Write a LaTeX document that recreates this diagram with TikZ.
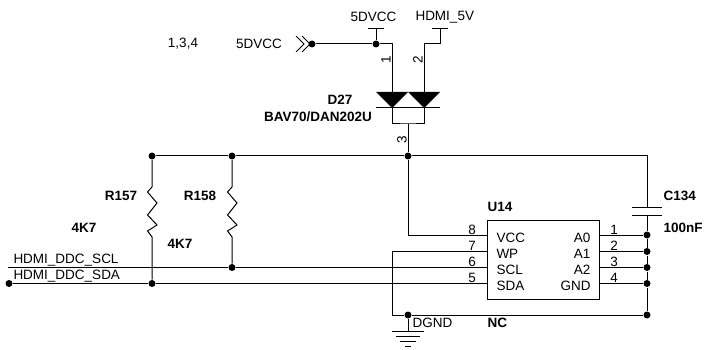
\documentclass[tikz,border=0pt]{standalone}
\usepackage{fontspec}
\setmainfont{Liberation Sans}
\begin{document}
\begin{tikzpicture}[x=1pt,y=-1pt,line width=1pt,
    txt/.style = {inner sep=0pt,font=\fontsize{13.5}{15}\selectfont},
    bold/.style = {txt,font=\fontsize{13.5}{15}\selectfont\bfseries},
    dot/.style = {circle,fill=black,inner sep=0pt,minimum size=7pt}]
  \useasboundingbox (0,0) rectangle (704,350);
  % junctions
  \node[dot] (conn) at (312,44) {};
  \node[dot] (vcc) at (376,44) {};
  \node[dot] (r1top) at (152,156) {};
  \node[dot] (r2top) at (232,156) {};
  \node[dot] (d3) at (408,156) {};
  \node[dot] (r1bot) at (152,283.5) {};
  \node[dot] (r2bot) at (232,267.5) {};
  \node[dot] (sda) at (9,283.5) {};
  \node[dot] (a0) at (647,235) {};
  \node[dot] (a1) at (647,251.5) {};
  \node[dot] (a2) at (647,267.5) {};
  \node[dot] (gnd) at (647,283.5) {};
  \node[dot] (nc) at (647,315) {};
  \node[dot] (dgnd) at (408,315) {};
  % chip
  \node[draw,minimum width=112pt,minimum height=79pt,inner sep=0pt] (u14) at (543,259.5) {};
  \foreach \name/\y in {p8/235,p7/251.5,p6/267.5,p5/283.5}
    \coordinate (\name) at (487,\y);
  \foreach \name/\y in {p1/235,p2/251.5,p3/267.5,p4/283.5}
    \coordinate (\name) at (599,\y);
  \foreach \n/\t/\y in {8/VCC/238,7/WP/253.5,6/SCL/269.5,5/SDA/285.5}{
    \node[txt] (n\n) at (472,\y-8) {\n};
    \node[txt,anchor=west] (l\n) at (496,\y) {\t};
  }
  \foreach \n/\t/\y in {1/A0/238,2/A1/253.5,3/A2/269.5,4/GND/285.5}{
    \node[txt] (n\n) at (614,\y-8) {\n};
    \node[txt,anchor=east] (l\n) at (591,\y) {\t};
  }
  \draw (p1) -- (a0);
  \draw (p2) -- (a1);
  \draw (p3) -- (a2);
  \draw (p4) -- (gnd);
  % top
  \coordinate (vccbar) at (376,29);
  \coordinate (hdmibar) at (440,29);
  \coordinate (hdmicor) at (440,44);
  \draw ([xshift=-8pt]vccbar) -- ([xshift=8pt]vccbar);
  \draw ([xshift=-8pt]hdmibar) -- ([xshift=8pt]hdmibar);
  \draw (vccbar) -- (vcc);
  \draw (hdmibar) -- (hdmicor);
  \draw (conn) -- (vcc);
  \draw (296,36) -- (304,44) -- (296,52);
  \draw (302,36) -- (310,44) -- (302,52);
  \node[txt] (t5v) at (373.5,17) {5DVCC};
  \node[txt,anchor=west] (thdmi) at (415,17) {HDMI\_5V};
  \node[txt] (tpages) at (183,44) {1,3,4};
  \node[txt] (tconn) at (259,44) {5DVCC};
  % diode
  \coordinate (dl) at (392,108);
  \coordinate (dr) at (424,108);
  \coordinate (dm) at (408,124);
  \fill (376,92) -- (408,92) -- (dl) -- cycle;
  \fill (408,92) -- (440,92) -- (dr) -- cycle;
  \draw (376,108) -- (440,108);
  \draw (vcc) -| (dl);
  \draw (hdmicor) -| (dr);
  \draw (dl) |- (dm) -| (dr);
  \draw (dm) -- (d3);
  \node[txt,rotate=90] (n1d) at (386,60) {1};
  \node[txt,rotate=90] (n2d) at (418,60) {2};
  \node[txt,rotate=90] (n3d) at (402,140) {3};
  \node[bold] (d27) at (340,100) {D27};
  \node[bold] (bav) at (318,116.5) {BAV70/DAN202U};
  % bus and pull-ups
  \coordinate (captop) at (647,207);
  \coordinate (capbot) at (647,215);
  \draw (r1top) -- (r2top);
  \draw (r2top) -- (d3);
  \draw (d3) -| (captop);
  \draw ([xshift=-15pt]captop) -- ([xshift=15pt]captop);
  \draw ([xshift=-15pt]capbot) -- ([xshift=15pt]capbot);
  \draw (capbot) -- (a0);
  \draw (a0) -- (a1);
  \draw (a1) -- (a2);
  \draw (a2) -- (gnd);
  \draw (gnd) -- (nc);
  \draw (d3) |- (p8);
  \draw (r1top) -- (152,187) -- (147.5,192) -- (157,203) -- (147.5,215) -- (157,225) -- (147.5,231) -- (152,237) -- (r1bot);
  \draw (r2top) -- (232,187) -- (227.5,192) -- (237,203) -- (227.5,215) -- (237,225) -- (227.5,231) -- (232,237) -- (r2bot);
  % signals
  \coordinate (scl) at (8,267.5);
  \coordinate (wpcor) at (392,251.5);
  \draw (scl) -- (r2bot);
  \draw (r2bot) -- (p6);
  \draw (sda) -- (r1bot);
  \draw (r1bot) -- (p5);
  \draw (p7) -- (wpcor) |- (dgnd);
  \draw (dgnd) -- (nc);
  % ground
  \coordinate (gtop) at (408,331);
  \draw (dgnd) -- (gtop);
  \draw ([xshift=-16pt]gtop) -- ([xshift=16pt]gtop);
  \draw ([xshift=-12pt,yshift=-5pt]gtop) -- ([xshift=12pt,yshift=-5pt]gtop);
  \draw ([xshift=-8pt,yshift=-10pt]gtop) -- ([xshift=8pt,yshift=-10pt]gtop);
  \draw ([xshift=-3pt,yshift=-15pt]gtop) -- ([xshift=3pt,yshift=-15pt]gtop);
  % labels
  \node[txt,anchor=west] (tscl) at (13,260) {HDMI\_DDC\_SCL};
  \node[txt,anchor=west] (tsda) at (13,276) {HDMI\_DDC\_SDA};
  \node[bold] (r157) at (121,196) {R157};
  \node[bold] (r158) at (200,196) {R158};
  \node[bold] (v157) at (84,228) {4K7};
  \node[bold] (v158) at (180,244) {4K7};
  \node[bold] (tu14) at (500,207) {U14};
  \node[bold,anchor=west] (c134) at (663,196) {C134};
  \node[bold,anchor=west] (v134) at (663,228) {100nF};
  \node[txt,anchor=west] (tdgnd) at (412,323) {DGND};
  \node[bold,anchor=west] (tnc) at (487,323) {NC};
\end{tikzpicture}
\end{document}
